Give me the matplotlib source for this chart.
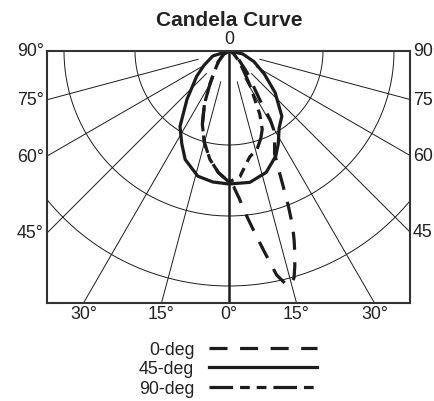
import numpy as np
import matplotlib
matplotlib.use("Agg")
import matplotlib.pyplot as plt
from matplotlib.lines import Line2D

plt.rcParams["font.family"] = ["Liberation Sans", "DejaVu Sans"]
plt.rcParams["lines.scale_dashes"] = False

# candela curves, angle from nadir (deg) -> intensity (chart units)
angles_0 = [-90, -60, -45, -35, -30, -25, -20, -15, -10, -5, 0, 2, 4, 6, 8, 10, 12, 14,
            15, 16, 17, 18, 19, 20, 21, 22, 23, 24, 26, 29, 31, 32, 35, 40, 50, 60, 90]
cd_0 = [0, 6, 15, 26, 38, 58, 78, 95, 110, 122, 131, 136, 148, 165, 183, 204, 229, 242,
        241, 236, 225, 213, 200, 186, 165, 142, 124, 112, 104, 96, 80, 60, 42, 28, 12, 5, 0]

angles_45 = [-90, -73, -60, -52, -41, -33, -27, -22, -14, -7, 0, 9, 17, 24, 28, 33, 39,
             48, 57, 67, 78, 90]
cd_45 = [0, 17, 29, 41, 64, 90, 104, 117, 129, 132, 133, 133, 127, 115, 105, 92, 84,
         62, 42, 27, 14, 0]

angles_90 = [-90, -60, -45, -35, -30, -25, -20, -15, -10, -5, 0, 5, 11, 16, 20, 23, 26,
             28, 31, 35, 45, 60, 90]
cd_90 = [0, 6, 15, 26, 38, 58, 78, 95, 110, 122, 131, 126, 108, 102, 93, 85, 70,
         55, 42, 28, 14, 5, 0]

rings = [94, 165, 235]
spokes = [-90, -75, -60, -45, -30, -15, 15, 30, 45, 60, 75, 90]
side_labels = [90, 75, 60, 45]
bottom_labels = [-30, -15, 0, 15, 30]

ink = "#1c1c1c"
fig = plt.figure(figsize=(4.34, 4.02), dpi=100)
ax = fig.add_axes([47 / 434, 98 / 402, 363 / 434, 252 / 402])
ax.set_xlim(-182, 181)
ax.set_ylim(-252, 0)
ax.set_xticks([])
ax.set_yticks([])
for s in ax.spines.values():
    s.set_linewidth(1.5)
    s.set_color("#333333")


def polar(a, r):
    t = np.radians(np.asarray(a, dtype=float))
    r = np.asarray(r, dtype=float)
    return r * np.sin(t), -r * np.cos(t)


# grid
t = np.linspace(-90, 90, 300)
for r in rings:
    x, y = polar(t, np.full_like(t, r))
    ax.plot(x, y, color=ink, lw=0.7)
for a in spokes:
    x, y = polar([a, a], [32, 600])
    ax.plot(x, y, color=ink, lw=0.7)
ax.plot([0, 0], [0, -600], color=ink, lw=1.8)

# curves
style_0 = (0, (13, 9))
style_90 = (0, (17, 5, 7, 5, 7, 5))
x, y = polar(angles_0, cd_0)
ax.plot(x, y, color=ink, lw=2.3, ls=style_0)
x, y = polar(angles_45, cd_45)
ax.plot(x, y, color=ink, lw=2.3)
x, y = polar(angles_90, cd_90)
ax.plot(x, y, color=ink, lw=2.3, ls=style_90)

# labels
fs = 12.8
for a in side_labels:
    yl = 0 if a == 90 else -182 / np.tan(np.radians(a))
    yr = 0 if a == 90 else -181 / np.tan(np.radians(a))
    ax.text(-185, yl, f"{a}°", ha="right", va="center", fontsize=fs, color="#222", clip_on=False)
    ax.text(184, yr, f"{a}", ha="left", va="center", fontsize=fs, color="#222", clip_on=False)
for a in bottom_labels:
    ax.text(252 * np.tan(np.radians(a)), -263, f"{abs(a)}°", ha="center", va="center",
            fontsize=fs, color="#222", clip_on=False)
ax.text(0, 12, "0", ha="center", va="center", fontsize=fs, color="#222", clip_on=False)

fig.text(229 / 434, 1 - 20 / 402, "Candela Curve", ha="center", va="center",
         fontsize=15, fontweight="bold", color="#222")

handles = [Line2D([], [], color=ink, lw=2.3, ls=style_0),
           Line2D([], [], color=ink, lw=2.3),
           Line2D([], [], color=ink, lw=2.3, ls=style_90)]
fig.legend(handles, ["0-deg", "45-deg", "90-deg"], loc="center",
           bbox_to_anchor=(228 / 434, 1 - 370 / 402), frameon=False, markerfirst=False,
           handlelength=6.1, handletextpad=0.8, labelspacing=0.15, borderpad=0,
           fontsize=fs, labelcolor="#222")

fig.savefig("out.png", dpi=100)
